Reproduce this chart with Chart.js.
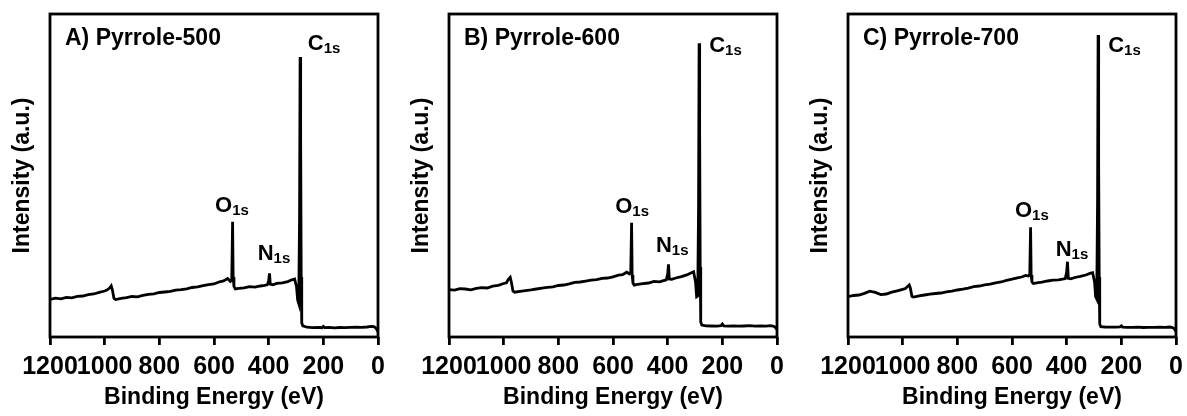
<!DOCTYPE html>
<html>
<head>
<meta charset="utf-8">
<script src="https://cdn.jsdelivr.net/npm/chart.js@4.4.1/dist/chart.umd.min.js"></script>
<style>
  html, body { margin: 0; padding: 0; background: #fff; }
  #wrap { position: relative; width: 1187px; height: 416px; overflow: hidden; }
  .panel { position: absolute; top: 0; width: 389px; height: 416px; }
</style>
</head>
<body>
<div id="wrap">
  <div class="panel" style="left:0px"><canvas id="chartA" width="389" height="416"></canvas></div>
  <div class="panel" style="left:399px"><canvas id="chartB" width="389" height="416"></canvas></div>
  <div class="panel" style="left:798px"><canvas id="chartC" width="389" height="416"></canvas></div>
</div>
<script>
// binding energy grid (eV), shared by the three surveys
const energyEv = [1200,1180,1160,1140,1120,1100,1080,1060,1040,1020,
  1000,990,982,976,972,966,960,940,920,900,
  880,860,840,820,800,780,760,740,720,700,
  680,660,640,620,600,580,565,550,540,535,
  532,530,527,522,510,490,470,450,430,415,
  405,400,397,394,385,370,350,330,315,305,
  298,294,290,287,285,283,281,279,275,260,
  240,220,205,200,195,180,160,140,120,100,
  80,60,40,25,15,8,3,0]

// intensities (a.u.)
const pyrrole500 = [37.5,38.8,38.2,39.6,39.1,40.6,41.0,42.3,43.0,44.6,
  46.0,47.2,49.0,51.2,47.5,38.8,37.4,38.6,39.3,40.5,
  40.2,41.6,42.7,43.2,44.5,45.0,45.6,46.9,47.4,48.2,
  49.5,50.1,51.3,52.4,53.0,55.2,56.1,58.4,55.5,57.0,
  115.3,60.0,50.5,48.0,48.6,49.2,50.4,49.9,51.0,51.6,
  52.2,56.0,63.7,52.8,52.1,53.6,54.2,55.4,57.2,58.0,
  50.0,37.0,33.5,120.0,280.0,199.0,60.0,14.0,11.2,9.8,
  9.4,9.7,9.3,10.6,9.4,9.6,9.1,9.5,9.3,9.6,
  9.8,9.6,10.0,10.6,10.3,9.0,6.8,5.2]

const pyrrole600 = [47.4,46.8,48.3,48.0,47.2,48.7,49.4,49.0,50.8,51.6,
  53.5,54.2,58.0,59.7,55.0,46.0,44.8,45.6,46.4,47.1,
  48.0,48.9,49.6,50.2,51.5,52.0,53.1,54.6,55.0,55.9,
  56.8,57.3,58.6,59.0,60.2,61.8,62.4,64.8,63.2,65.0,
  114.3,62.0,54.0,51.8,52.6,53.4,54.0,55.6,55.1,56.4,
  57.2,63.0,72.7,58.0,57.6,59.0,60.4,62.1,64.0,65.3,
  55.0,40.3,41.0,130.0,293.7,204.0,70.0,15.0,12.0,11.2,
  11.0,10.8,11.3,13.0,11.1,10.9,11.2,10.8,11.0,11.3,
  10.9,11.1,10.8,11.4,11.0,10.2,8.5,7.7]

const pyrrole700 = [40.3,41.5,42.0,43.6,45.8,44.6,42.4,43.0,44.8,46.2,
  47.7,48.4,50.5,52.0,49.0,40.6,40.0,41.2,42.0,42.8,
  43.5,44.0,45.2,45.9,47.0,47.8,48.9,50.3,51.0,52.2,
  52.8,54.1,55.0,56.6,57.8,59.2,60.0,61.6,61.0,62.5,
  109.7,62.0,55.0,53.5,54.2,54.8,56.0,56.9,57.2,57.8,
  58.4,65.0,75.3,58.6,58.2,59.5,60.6,62.0,63.6,64.3,
  55.0,40.3,38.0,135.0,302.0,175.0,60.0,13.0,10.4,10.0,
  9.8,9.9,10.1,11.2,9.9,9.7,9.6,9.8,9.5,9.7,
  9.6,9.8,9.7,10.0,9.6,8.7,6.8,5.3]

const xTicks = [1200, 1000, 800, 600, 400, 200, 0]

// peak labels: [element, subscript, eV, intensity]
const peaksA = [['C','1s',257,287],['O','1s',596,125],['N','1s',440,77]]
const peaksB = [['C','1s',248,285],['O','1s',592,124],['N','1s',443,85]]
const peaksC = [['C','1s',248,285],['O','1s',589,120],['N','1s',440,81]]

const FONT = '"Liberation Sans", Arial, sans-serif'
Chart.defaults.font.family = FONT
Chart.defaults.color = '#000'

const framePlugin = {
    id: 'frame',
    afterDatasetsDraw(chart) {
        const { ctx, chartArea: a } = chart
        ctx.save()
        ctx.strokeStyle = '#000'
        ctx.lineWidth = 2.8
        ctx.strokeRect(a.left, a.top, a.right - a.left, a.bottom - a.top)
        ctx.restore()
    }
}

const labelPlugin = {
    id: 'peakLabels',
    afterDraw(chart, args, opts) {
        const { ctx, chartArea: a, scales } = chart
        ctx.save()
        ctx.fillStyle = '#000'
        ctx.textBaseline = 'alphabetic'
        ctx.textAlign = 'left'
        ctx.font = 'bold 23px ' + FONT
        ctx.fillText(opts.title, a.left + 15, a.top + 31)
        opts.peaks.forEach(([main, sub, ev, val]) => {
            const x = scales.x.getPixelForValue(ev)
            const y = scales.y.getPixelForValue(val)
            ctx.font = 'bold 22px ' + FONT
            ctx.fillText(main, x, y)
            const w = ctx.measureText(main).width
            ctx.font = 'bold 15px ' + FONT
            ctx.fillText(sub, x + w, y + 3)
        })
        ctx.restore()
    }
}

function makePanel(id, title, values, peaks) {
    const points = energyEv.map((e, i) => ({ x: e, y: values[i] }))
    return new Chart(document.getElementById(id), {
        type: 'line',
        data: {
            datasets: [{
                data: points,
                borderColor: '#000',
                borderWidth: 2.8,
                borderJoinStyle: 'miter',
                pointRadius: 0,
                tension: 0,
                fill: false
            }]
        },
        options: {
            responsive: false,
            animation: false,
            events: [],
            layout: { padding: { top: 14, right: 11, left: 0, bottom: 0 } },
            plugins: {
                legend: { display: false },
                tooltip: { enabled: false },
                peakLabels: { title: title, peaks: peaks }
            },
            scales: {
                x: {
                    type: 'linear',
                    min: 0,
                    max: 1200,
                    reverse: true,
                    afterBuildTicks: s => { s.ticks = xTicks.map(v => ({ value: v })) },
                    afterFit: s => { s.height = 79; s.paddingLeft = 0; s.paddingRight = 0 },
                    ticks: {
                        color: '#000',
                        padding: 7,
                        maxRotation: 0,
                        autoSkip: false,
                        callback: v => String(v),
                        font: { size: 25, weight: 'bold' }
                    },
                    grid: {
                        drawOnChartArea: false,
                        drawTicks: true,
                        tickLength: 8,
                        lineWidth: 2.8,
                        color: '#000'
                    },
                    border: { display: false },
                    title: {
                        display: true,
                        text: 'Binding Energy (eV)',
                        color: '#000',
                        font: { size: 23, weight: 'bold' },
                        padding: { top: 0, bottom: 5 }
                    }
                },
                y: {
                    min: 0,
                    max: 323,
                    afterFit: s => { s.width = 50 },
                    ticks: { display: false },
                    grid: { display: false },
                    border: { display: false },
                    title: {
                        display: true,
                        text: 'Intensity (a.u.)',
                        color: '#000',
                        font: { size: 23, weight: 'bold' },
                        padding: { top: 9, bottom: 0 }
                    }
                }
            }
        },
        plugins: [framePlugin, labelPlugin]
    })
}

makePanel('chartA', 'A) Pyrrole-500', pyrrole500, peaksA)
makePanel('chartB', 'B) Pyrrole-600', pyrrole600, peaksB)
makePanel('chartC', 'C) Pyrrole-700', pyrrole700, peaksC)
</script>
</body>
</html>
